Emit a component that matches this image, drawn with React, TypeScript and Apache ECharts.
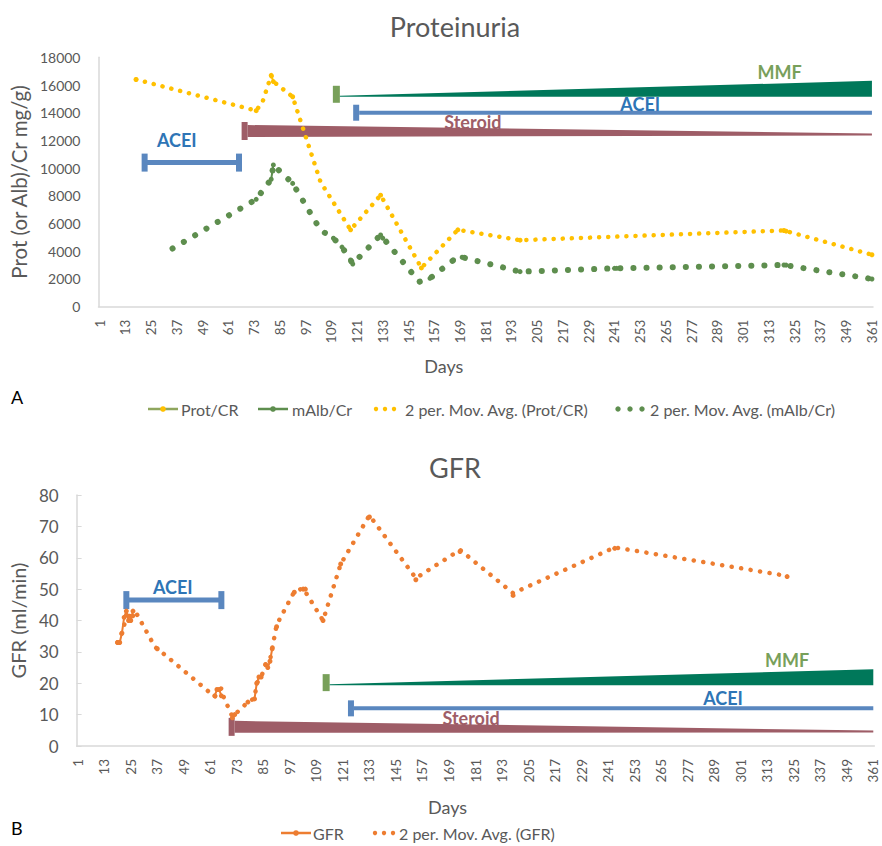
import React, { useEffect, useRef } from "react";
import * as echarts from "echarts";

const FONT = "Lato, 'Open Sans', sans-serif";
const GRAY = "#595959";
const AXIS = "#D9D9D9";
const YELLOW = "#FFC000";
const GREEN = "#5E8E4E";
const OLIVE_LINE = "#8FA65E";
const ORANGE = "#ED7D31";
const BLUE = "#5A87BF";
const BLUE_TEXT = "#2E75B6";
const MAUVE = "#9E5D67";
const TEAL = "#00785A";
const OLIVE = "#78A05A";

// Categories: days 1..361
const dayCategories: string[] = Array.from({ length: 361 }, (_, i) => String(i + 1));
const protYTicks = [0, 2000, 4000, 6000, 8000, 10000, 12000, 14000, 16000, 18000];
const gfrYTicks = [0, 10, 20, 30, 40, 50, 60, 70, 80];

// [day, value]
const protCr = [[18, 16400], [74, 14150], [81, 16700], [82, 16250], [91, 15150], [118, 5550], [132, 8050], [151, 2800], [168, 5550], [197, 4800], [320, 5500], [321, 5450], [361, 3750]];
const mAlbCr = [[35, 4200], [74, 7750], [81, 9200], [82, 10230], [91, 8900], [110, 4940], [114, 4300], [118, 3370], [119, 3080], [132, 5180], [133, 4950], [150, 1800], [155, 2050], [166, 3370], [170, 3570], [197, 2530], [241, 2770], [242, 2770], [320, 3010], [321, 3000], [361, 2000]];
const protCrAvg = [[18, 16400], [74, 14150], [77, 14800], [81, 16700], [82, 16250], [91, 15150], [104, 9000], [118, 5550], [132, 8050], [151, 2800], [168, 5550], [197, 4800], [320, 5500], [361, 3750]];
const mAlbCrAvg = [[35, 4200], [74, 7750], [81, 9200], [82, 10230], [91, 8900], [104, 5530], [110, 4940], [114, 4300], [118, 3370], [119, 3080], [132, 5180], [150, 1800], [155, 2050], [166, 3370], [170, 3570], [197, 2530], [241, 2770], [320, 3010], [361, 2000]];

const gfr = [[19, 33], [20, 33], [21, 36], [22, 41], [23, 43], [24, 40], [25, 40], [26, 43], [37, 31], [63, 16], [64, 18], [65, 18], [66, 16], [71, 9], [72, 10], [78, 14], [81, 15], [82, 20], [83, 22], [84, 22], [86, 26], [87, 25], [88, 27], [89, 31], [91, 38], [99, 49], [103, 50], [104, 50], [112, 40], [120, 58], [133, 73], [154, 53], [174, 62], [198, 48], [244, 63], [322, 54]];
const gfrAvg = [[19, 33], [21, 36], [23, 41], [24, 43], [25, 40], [27, 43], [36, 31.5], [38, 30.5], [63, 15.7], [66, 18.4], [67, 15.7], [71, 9.3], [78, 14], [81, 15.2], [82, 20], [84, 22], [86, 25.8], [88, 27.4], [89, 31], [91, 38.6], [99, 49.2], [103, 50.3], [112, 40], [120, 58], [133, 73.5], [154, 53.5], [174, 62.5], [198, 48.7], [244, 63.3], [322, 54.2]];

// Treatment periods: [startDay, endDay, levelAtStart, levelAtEnd]
const protAceiFirst = [22, 66, 10400, 10400];
const protSteroid = [70, 361, 12680, 12430];
const protMmf = [113, 361, 15150, 15150];
const protAceiSecond = [122, 361, 14000, 14000];
const gfrAceiFirst = [23, 66, 46.5, 46.5];
const gfrSteroid = [72, 361, 6.1, 4.6];
const gfrMmf = [115, 361, 19.4, 19.4];
const gfrAceiSecond = [126, 361, 12, 12];

type DrugSpec = { data: number[]; kind: string; label: string; labelDay: number; labelDy: number };

const protDrugs: DrugSpec[] = [
  { data: protAceiFirst, kind: "bracket", label: "ACEI", labelDay: 37, labelDy: -23 },
  { data: protSteroid, kind: "steroid", label: "Steroid", labelDay: 175, labelDy: -10 },
  { data: protMmf, kind: "mmf", label: "MMF", labelDay: 318, labelDy: -25 },
  { data: protAceiSecond, kind: "bar", label: "ACEI", labelDay: 253, labelDy: -9 },
];
const gfrDrugs: DrugSpec[] = [
  { data: gfrAceiFirst, kind: "bracket", label: "ACEI", labelDay: 44, labelDy: -13 },
  { data: gfrSteroid, kind: "steroid", label: "Steroid", labelDay: 179, labelDy: -11 },
  { data: gfrMmf, kind: "mmf", label: "MMF", labelDay: 322, labelDy: -25 },
  { data: gfrAceiSecond, kind: "bar", label: "ACEI", labelDay: 293, labelDy: -10 },
];

const toCat = (pts: number[][]) => pts.map(([d, v]) => [String(d), v]);
const toFull = (pts: number[][]) => {
  const arr: (number | null)[] = dayCategories.map(() => null);
  pts.forEach(([d, v]) => {
    arr[d - 1] = v;
  });
  return arr;
};

const rect = (x: number, y: number, w: number, h: number, fill: string) => ({
  type: "rect",
  shape: { x, y, width: w, height: h },
  style: { fill },
});

function drugSeries(specs: DrugSpec[], axisIndex: number) {
  return {
    type: "custom",
    xAxisIndex: axisIndex,
    yAxisIndex: axisIndex,
    z: 1,
    silent: true,
    clip: false,
    data: specs.map((s, i) => [s.data[0] - 1, s.data[2], i]),
    encode: { x: 0, y: 1 },
    renderItem: (params: any, api: any) => {
      const spec = specs[api.value(2)];
      const [s, e, l0, l1] = spec.data;
      const a = api.coord([s - 1, l0]);
      const b = api.coord([e - 1, l1]);
      const children: any[] = [];
      let labelColor = BLUE_TEXT;
      if (spec.kind === "bracket") {
        children.push(rect(a[0], a[1] - 2.5, b[0] - a[0], 5, BLUE));
        children.push(rect(a[0] - 3, a[1] - 9, 6, 18, BLUE));
        children.push(rect(b[0] - 3, b[1] - 9, 6, 18, BLUE));
      } else if (spec.kind === "steroid") {
        labelColor = MAUVE;
        children.push(rect(a[0] - 6, a[1] - 9, 6, 18, MAUVE));
        children.push({
          type: "polygon",
          shape: { points: [[a[0], a[1] - 6], [b[0], b[1] - 1], [b[0], b[1] + 1], [a[0], a[1] + 6]] },
          style: { fill: MAUVE },
        });
      } else if (spec.kind === "mmf") {
        labelColor = OLIVE;
        children.push(rect(a[0] - 7, a[1] - 11, 7, 17, OLIVE));
        children.push({
          type: "polygon",
          shape: { points: [[a[0], a[1]], [a[0], a[1] - 1], [b[0], b[1] - 16], [b[0], b[1]]] },
          style: { fill: TEAL },
        });
      } else {
        children.push(rect(a[0] - 6, a[1] - 8, 6, 16, BLUE));
        children.push(rect(a[0], a[1] - 2, b[0] - a[0], 4, BLUE));
      }
      const t = (spec.labelDay - s) / (e - s);
      const lv = l0 + (l1 - l0) * t;
      const lp = api.coord([spec.labelDay - 1, lv]);
      children.push({
        type: "text",
        x: lp[0],
        y: lp[1] + spec.labelDy,
        style: {
          text: spec.label,
          fill: labelColor,
          fontSize: 18,
          fontWeight: "bold",
          fontFamily: FONT,
          align: "center",
          verticalAlign: "middle",
        },
      });
      return { type: "group", children };
    },
  };
}

const dotted = (color: string, width: number, gap: number) => ({
  color,
  width,
  type: [0.1, gap],
  cap: "round",
});

function legendText(x: number, y: number, text: string) {
  return {
    type: "text",
    x,
    y,
    style: { text, fill: GRAY, fontSize: 16, fontFamily: FONT, align: "left", verticalAlign: "middle" },
  };
}
function legendLine(x: number, y: number, lineColor: string, dotColor: string) {
  return [
    { type: "line", shape: { x1: x, y1: y, x2: x + 30, y2: y }, style: { stroke: lineColor, lineWidth: 2.5 } },
    { type: "circle", shape: { cx: x + 15, cy: y, r: 2.8 }, style: { fill: dotColor } },
  ];
}
function legendDots(x: number, y: number, color: string, r: number, step: number) {
  return [0, 1, 2].map((k) => ({
    type: "circle",
    shape: { cx: x + k * step, cy: y, r },
    style: { fill: color },
  }));
}

export default function App() {
  const ref = useRef<HTMLDivElement>(null);
  useEffect(() => {
    if (!ref.current) return;
    const chart = echarts.init(ref.current, null, { renderer: "svg" });
    const xAxisCommon = {
      type: "category",
      data: dayCategories,
      boundaryGap: true,
      axisLine: { lineStyle: { color: AXIS, width: 1.5 } },
      axisTick: { show: false },
      splitLine: { show: false },
      axisLabel: { interval: 11, rotate: 90, color: GRAY, fontSize: 13.5, fontFamily: FONT, margin: 13 },
      name: "Days",
      nameLocation: "middle",
    };
    const option: any = {
      animation: false,
      backgroundColor: "#ffffff",
      title: [
        {
          text: "Proteinuria",
          left: 450,
          top: 8,
          textAlign: "center",
          textStyle: { fontSize: 27, fontWeight: "normal", color: GRAY, fontFamily: FONT },
        },
        {
          text: "GFR",
          left: 450,
          top: 449,
          textAlign: "center",
          textStyle: { fontSize: 27, fontWeight: "normal", color: GRAY, fontFamily: FONT },
        },
      ],
      grid: [
        { left: 94, right: 9, top: 57.3, height: 249.4 },
        { left: 74, right: 7.6, top: 495, height: 251 },
      ],
      xAxis: [
        {
          ...xAxisCommon,
          gridIndex: 0,
          nameGap: 50,
          nameTextStyle: { fontSize: 18, color: GRAY, fontFamily: FONT, padding: [0, 84, 0, 0] },
        },
        {
          ...xAxisCommon,
          gridIndex: 1,
          nameGap: 52,
          nameTextStyle: { fontSize: 18, color: GRAY, fontFamily: FONT, padding: [0, 56, 0, 0] },
        },
      ],
      yAxis: [
        {
          type: "value",
          gridIndex: 0,
          min: protYTicks[0],
          max: protYTicks[protYTicks.length - 1],
          interval: protYTicks[1] - protYTicks[0],
          splitLine: { show: false },
          axisLine: { show: true, lineStyle: { color: AXIS, width: 1.5 } },
          axisTick: { show: false },
          axisLabel: { color: GRAY, fontSize: 14, fontFamily: FONT, margin: 18, formatter: (v: number) => String(v) },
          name: "Prot (or Alb)/Cr mg/g)",
          nameLocation: "middle",
          nameRotate: 90,
          nameGap: 62,
          nameTextStyle: { fontSize: 20.5, color: GRAY, fontFamily: FONT },
        },
        {
          type: "value",
          gridIndex: 1,
          min: gfrYTicks[0],
          max: gfrYTicks[gfrYTicks.length - 1],
          interval: gfrYTicks[1] - gfrYTicks[0],
          splitLine: { show: false },
          axisLine: { show: true, lineStyle: { color: AXIS, width: 1.5 } },
          axisTick: { show: true, inside: true, length: 5, lineStyle: { color: AXIS } },
          axisLabel: { color: GRAY, fontSize: 17, fontFamily: FONT, margin: 18, formatter: (v: number) => String(v) },
          name: "GFR (ml/min)",
          nameLocation: "middle",
          nameRotate: 90,
          nameGap: 45,
          nameTextStyle: { fontSize: 20, color: GRAY, fontFamily: FONT },
        },
      ],
      series: [
        drugSeries(protDrugs, 0),
        drugSeries(gfrDrugs, 1),
        {
          name: "Prot/CR",
          type: "line",
          xAxisIndex: 0,
          yAxisIndex: 0,
          z: 3,
          data: toFull(protCr),
          connectNulls: false,
          showAllSymbol: true,
          symbol: "circle",
          symbolSize: 5,
          lineStyle: { color: YELLOW, width: 2 },
          itemStyle: { color: YELLOW },
        },
        {
          name: "mAlb/Cr",
          type: "line",
          xAxisIndex: 0,
          yAxisIndex: 0,
          z: 3,
          data: toFull(mAlbCr),
          connectNulls: false,
          showAllSymbol: true,
          symbol: "circle",
          symbolSize: 5,
          lineStyle: { color: GREEN, width: 2 },
          itemStyle: { color: GREEN },
        },
        {
          name: "2 per. Mov. Avg. (Prot/CR)",
          type: "line",
          xAxisIndex: 0,
          yAxisIndex: 0,
          z: 3,
          data: toCat(protCrAvg),
          symbol: "none",
          lineStyle: dotted(YELLOW, 4.5, 9),
        },
        {
          name: "2 per. Mov. Avg. (mAlb/Cr)",
          type: "line",
          xAxisIndex: 0,
          yAxisIndex: 0,
          z: 3,
          data: toCat(mAlbCrAvg),
          symbol: "none",
          lineStyle: dotted(GREEN, 6, 13),
        },
        {
          name: "GFR",
          type: "line",
          xAxisIndex: 1,
          yAxisIndex: 1,
          z: 3,
          data: toFull(gfr),
          connectNulls: false,
          showAllSymbol: true,
          symbol: "circle",
          symbolSize: 5,
          lineStyle: { color: ORANGE, width: 2 },
          itemStyle: { color: ORANGE },
        },
        {
          name: "2 per. Mov. Avg. (GFR)",
          type: "line",
          xAxisIndex: 1,
          yAxisIndex: 1,
          z: 3,
          data: toCat(gfrAvg),
          symbol: "none",
          lineStyle: dotted(ORANGE, 4.5, 9.5),
        },
      ],
      graphic: [
        { type: "text", left: 11, top: 388, style: { text: "A", fill: "#000", fontSize: 18, fontFamily: FONT } },
        { type: "text", left: 11, top: 819, style: { text: "B", fill: "#000", fontSize: 18, fontFamily: FONT } },
        ...legendLine(148, 409, OLIVE_LINE, YELLOW),
        legendText(181, 409, "Prot/CR"),
        ...legendLine(258, 409, GREEN, GREEN),
        legendText(292, 409, "mAlb/Cr"),
        ...legendDots(376, 409, YELLOW, 2.2, 9),
        legendText(405, 409, "2 per. Mov. Avg. (Prot/CR)"),
        ...legendDots(618, 409, GREEN, 2.7, 12),
        legendText(650, 409, "2 per. Mov. Avg. (mAlb/Cr)"),
        ...legendLine(281, 833, ORANGE, ORANGE),
        legendText(313, 833, "GFR"),
        ...legendDots(375, 833, ORANGE, 2.2, 9),
        legendText(399, 833, "2 per. Mov. Avg. (GFR)"),
      ],
    };
    chart.setOption(option);
    return () => chart.dispose();
  }, []);
  return (
    <div
      ref={ref}
      style={{ position: "absolute", left: 0, top: 0, width: 882, height: 846, background: "#fff" }}
    />
  );
}
